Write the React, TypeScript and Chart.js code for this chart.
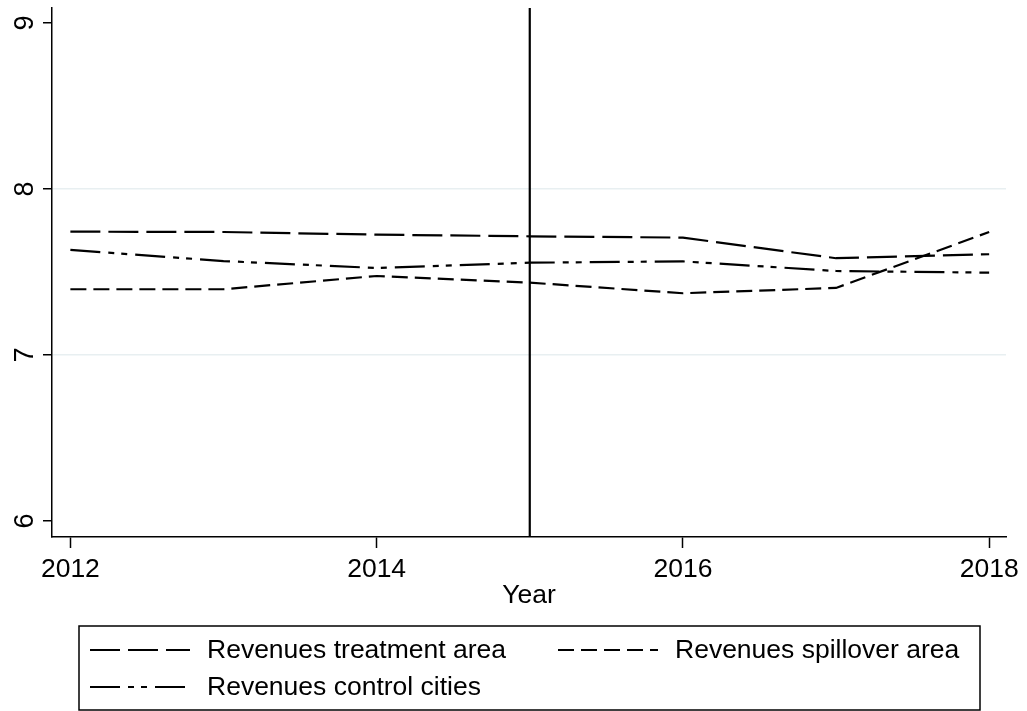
import React, { useEffect, useRef } from "react";
import { Chart, registerables } from "chart.js";

Chart.register(...registerables);

const years = [2012, 2013, 2014, 2015, 2016, 2017, 2018];
const treatment = [7.743, 7.741, 7.725, 7.715, 7.707, 7.583, 7.607];
const spillover = [7.396, 7.396, 7.476, 7.436, 7.372, 7.404, 7.741];
const control = [7.633, 7.566, 7.524, 7.556, 7.564, 7.506, 7.496];
const seriesLabels = [
  "Revenues treatment area",
  "Revenues spillover area",
  "Revenues control cities",
];
const yTicks = [6, 7, 8, 9];
const xTicks = [2012, 2014, 2016, 2018];
const gridValues = [7, 8];
const policyYear = 2015;
const xTitle = "Year";

const FONT = "'Liberation Sans', Arial, Helvetica, sans-serif";
const DASH_TREAT = [30, 8];
const DASH_SPILL = [16, 7];
const DASH_CTRL = [30, 8, 6, 7, 6, 8];

const toPoints = (vals: number[]) => years.map((x, i) => ({ x, y: vals[i] }));

const extrasPlugin = {
  id: "extras",
  afterDatasetsDraw(chart: any) {
    const { ctx, chartArea, scales } = chart;
    const xs = scales.x;
    ctx.save();
    const px = xs.getPixelForValue(policyYear);
    ctx.beginPath();
    ctx.setLineDash([]);
    ctx.strokeStyle = "#000";
    ctx.lineWidth = 2.2;
    ctx.moveTo(px, chartArea.top);
    ctx.lineTo(px, chartArea.bottom);
    ctx.stroke();
    ctx.restore();
  },
  afterDraw(chart: any) {
    const { ctx, scales } = chart;
    const ys = scales.y;
    ctx.save();
    ctx.fillStyle = "#000";
    ctx.font = `27px ${FONT}`;
    ctx.textAlign = "center";
    ctx.textBaseline = "alphabetic";
    yTicks.forEach((v) => {
      const y = ys.getPixelForValue(v);
      ctx.save();
      ctx.translate(33, y);
      ctx.rotate(-Math.PI / 2);
      ctx.fillText(String(v), 0, 0);
      ctx.restore();
    });
    ctx.lineWidth = 1.5;
    ctx.strokeStyle = "#000";
    ctx.setLineDash([]);
    ctx.strokeRect(79, 626, 901, 84);
    const items = [
      { label: seriesLabels[0], dash: DASH_TREAT, x: 90, y: 650 },
      { label: seriesLabels[1], dash: DASH_SPILL, x: 558, y: 650 },
      { label: seriesLabels[2], dash: DASH_CTRL, x: 90, y: 687 },
    ];
    ctx.font = `26.5px ${FONT}`;
    ctx.textAlign = "left";
    ctx.textBaseline = "middle";
    items.forEach((it) => {
      ctx.beginPath();
      ctx.lineWidth = 2.2;
      ctx.setLineDash(it.dash);
      ctx.moveTo(it.x, it.y);
      ctx.lineTo(it.x + 100, it.y);
      ctx.stroke();
      ctx.setLineDash([]);
      ctx.fillText(it.label, it.x + 117, it.y + 1);
    });
    ctx.restore();
  },
};

export default function App() {
  const ref = useRef<HTMLCanvasElement | null>(null);
  useEffect(() => {
    if (!ref.current) return;
    const chart = new Chart(ref.current, {
      type: "line",
      data: {
        datasets: [
          {
            label: seriesLabels[0],
            data: toPoints(treatment),
            borderColor: "#000",
            borderWidth: 2.2,
            borderDash: DASH_TREAT,
            pointRadius: 0,
            tension: 0,
            fill: false,
          },
          {
            label: seriesLabels[1],
            data: toPoints(spillover),
            borderColor: "#000",
            borderWidth: 2.2,
            borderDash: DASH_SPILL,
            pointRadius: 0,
            tension: 0,
            fill: false,
          },
          {
            label: seriesLabels[2],
            data: toPoints(control),
            borderColor: "#000",
            borderWidth: 2.2,
            borderDash: DASH_CTRL,
            pointRadius: 0,
            tension: 0,
            fill: false,
          },
        ],
      },
      options: {
        responsive: false,
        animation: false,
        devicePixelRatio: 1,
        layout: { padding: { left: 0, top: 8, right: 21, bottom: 0 } },
        plugins: { legend: { display: false }, tooltip: { enabled: false } },
        scales: {
          x: {
            type: "linear",
            min: 2011.88,
            max: 2018.11,
            afterBuildTicks: (s: any) => {
              s.ticks = xTicks.map((v) => ({ value: v }));
            },
            afterFit: (s: any) => {
              s.height = 174;
            },
            grid: {
              drawOnChartArea: false,
              tickLength: 11,
              tickColor: "#000",
              tickWidth: 1.5,
            },
            border: { color: "#000", width: 1.5 },
            ticks: {
              color: "#000",
              font: { size: 26.5, family: FONT },
              padding: 6,
              maxRotation: 0,
              autoSkip: false,
              callback: (v: any) => String(v),
            },
            title: {
              display: true,
              text: xTitle,
              color: "#000",
              font: { size: 26.5, family: FONT },
              padding: { top: 0, bottom: 99 },
            },
          },
          y: {
            min: 5.904,
            max: 9.09,
            afterBuildTicks: (s: any) => {
              s.ticks = yTicks.map((v) => ({ value: v }));
            },
            afterFit: (s: any) => {
              s.width = 52;
            },
            grid: {
              color: (c: any) =>
                c.tick && gridValues.includes(c.tick.value) ? "#e8eff1" : "rgba(0,0,0,0)",
              lineWidth: 1.5,
              tickColor: "#000",
              tickLength: 9,
              tickWidth: 1.5,
            },
            border: { color: "#000", width: 1.5 },
            ticks: { display: false },
          },
        },
      },
      plugins: [extrasPlugin],
    } as any);
    return () => chart.destroy();
  }, []);
  return (
    <div style={{ position: "fixed", left: 0, top: 0, width: 1027, height: 711, background: "#fff" }}>
      <canvas ref={ref} width={1027} height={711} style={{ display: "block" }} />
    </div>
  );
}
